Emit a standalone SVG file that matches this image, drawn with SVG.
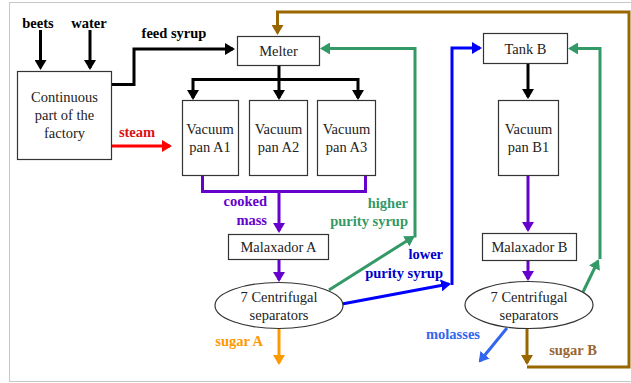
<svg xmlns="http://www.w3.org/2000/svg" width="631" height="383" viewBox="0 0 631 383">
<style>
.box{fill:#fff;stroke:#333;stroke-width:1.2}
.nt{font-family:'Liberation Serif','Times New Roman','DejaVu Serif',serif;font-size:14.5px;fill:#222;text-anchor:middle}
.lb{font-family:'Liberation Serif','Times New Roman','DejaVu Serif',serif;font-size:14.5px;font-weight:bold}
.c{fill:none;stroke-width:3}
.k{stroke:#000}.r{stroke:#ff0000}.p{stroke:#6600cc}.g{stroke:#339966}.b{stroke:#0000ff}.o{stroke:#ff9900}.br{stroke:#996600}.lbl{stroke:#3366ee}
</style>
<defs>
<marker id="ak" viewBox="0 0 10 12" markerWidth="10" markerHeight="12" refX="8" refY="6" orient="auto" markerUnits="userSpaceOnUse"><path d="M0,0L10,6L0,12z" fill="#000"/></marker>
<marker id="ar" viewBox="0 0 10 12" markerWidth="10" markerHeight="12" refX="8" refY="6" orient="auto" markerUnits="userSpaceOnUse"><path d="M0,0L10,6L0,12z" fill="#ff0000"/></marker>
<marker id="ap" viewBox="0 0 10 12" markerWidth="10" markerHeight="12" refX="8" refY="6" orient="auto" markerUnits="userSpaceOnUse"><path d="M0,0L10,6L0,12z" fill="#6600cc"/></marker>
<marker id="ag" viewBox="0 0 10 12" markerWidth="10" markerHeight="12" refX="8" refY="6" orient="auto" markerUnits="userSpaceOnUse"><path d="M0,0L10,6L0,12z" fill="#339966"/></marker>
<marker id="ab" viewBox="0 0 10 12" markerWidth="10" markerHeight="12" refX="8" refY="6" orient="auto" markerUnits="userSpaceOnUse"><path d="M0,0L10,6L0,12z" fill="#0000ff"/></marker>
<marker id="ao" viewBox="0 0 10 12" markerWidth="10" markerHeight="12" refX="8" refY="6" orient="auto" markerUnits="userSpaceOnUse"><path d="M0,0L10,6L0,12z" fill="#ff9900"/></marker>
<marker id="abr" viewBox="0 0 10 12" markerWidth="10" markerHeight="12" refX="8" refY="6" orient="auto" markerUnits="userSpaceOnUse"><path d="M0,0L10,6L0,12z" fill="#996600"/></marker>
<marker id="al" viewBox="0 0 10 12" markerWidth="10" markerHeight="12" refX="8" refY="6" orient="auto" markerUnits="userSpaceOnUse"><path d="M0,0L10,6L0,12z" fill="#3366ee"/></marker>
</defs>
<rect x="0" y="0" width="631" height="383" fill="#fff"/>
<rect x="9.5" y="2.5" width="640" height="379" fill="none" stroke="#c8c8c8" stroke-width="1"/>

<g id="connectors">
<path class="c k" d="M40.5,30V68" marker-end="url(#ak)"/>
<path class="c k" d="M90,30V68" marker-end="url(#ak)"/>
<path class="c k" d="M112,84.5H134V49H233" marker-end="url(#ak)"/>
<path class="c r" d="M112,146H170" marker-end="url(#ar)"/>
<path class="c k" d="M279,66V79.5"/>
<path class="c k" d="M279,79.5H193V98" marker-end="url(#ak)"/>
<path class="c k" d="M279,79.5H358V98" marker-end="url(#ak)"/>
<path class="c k" d="M279,79V98" marker-end="url(#ak)"/>
<path class="c p" d="M202.5,176V191.5H365.5V176"/>
<path class="c p" d="M279,191V231" marker-end="url(#ap)"/>
<path class="c p" d="M279,259V280" marker-end="url(#ap)"/>
<path class="c o" d="M279,328.5V363" marker-end="url(#ao)"/>
<path class="c g" d="M329,290L413,237" marker-end="url(#ag)"/>
<path class="c g" d="M415,237.5V48.5H322" marker-end="url(#ag)"/>
<path class="c b" d="M342,304L449,284" marker-end="url(#ab)"/>
<path class="c b" d="M452,285V48H480" marker-end="url(#ab)"/>
<path class="c k" d="M528,63V97" marker-end="url(#ak)"/>
<path class="c p" d="M528,176V230" marker-end="url(#ap)"/>
<path class="c p" d="M528,260V279" marker-end="url(#ap)"/>
<path class="c g" d="M583,292L598,261" marker-end="url(#ag)"/>
<path class="c g" d="M600,259V48.5H570" marker-end="url(#ag)"/>
<path class="c lbl" d="M507,328L480,361" marker-end="url(#al)"/>
<path class="c br" d="M527,329V363" marker-end="url(#abr)"/>
<path class="c br" d="M527,367H629V12H277.5V33" marker-end="url(#abr)"/>
</g>

<g id="labels" font-family="Liberation Serif, serif">
<text class="lb" x="38" y="28" text-anchor="middle" fill="#000">beets</text>
<text class="lb" x="89" y="28" text-anchor="middle" fill="#000">water</text>
<text class="lb" x="174" y="38" text-anchor="middle" fill="#000">feed syrup</text>
<text class="lb" x="137" y="137" text-anchor="middle" fill="#dd1111">steam</text>
<text class="lb" x="267" y="206" text-anchor="end" fill="#6600cc">cooked</text>
<text class="lb" x="267" y="225" text-anchor="end" fill="#6600cc">mass</text>
<text class="lb" x="408" y="208" text-anchor="end" fill="#339966">higher</text>
<text class="lb" x="408" y="226" text-anchor="end" fill="#339966">purity syrup</text>
<text class="lb" x="443" y="259" text-anchor="end" fill="#0000cc">lower</text>
<text class="lb" x="443" y="278" text-anchor="end" fill="#0000cc">purity syrup</text>
<text class="lb" x="263" y="346" text-anchor="end" fill="#ff9900">sugar A</text>
<text class="lb" x="453" y="339" text-anchor="middle" fill="#3366ee">molasses</text>
<text class="lb" x="573" y="355" text-anchor="middle" fill="#996633">sugar B</text>
</g>

<g id="continuous"><rect class="box" x="17.5" y="71.5" width="94" height="88"/>
<text class="nt" x="64.5" y="102">Continuous</text><text class="nt" x="64.5" y="120">part of the</text><text class="nt" x="64.5" y="138">factory</text></g>
<g id="melter"><rect class="box" x="237.5" y="36.5" width="82" height="29"/><text class="nt" x="278.5" y="56">Melter</text></g>
<g id="panA1"><rect class="box" x="182.5" y="100.5" width="56" height="75"/><text class="nt" x="210" y="134">Vacuum</text><text class="nt" x="210" y="152">pan A1</text></g>
<g id="panA2"><rect class="box" x="249.5" y="100.5" width="58" height="75"/><text class="nt" x="278.5" y="134">Vacuum</text><text class="nt" x="278.5" y="152">pan A2</text></g>
<g id="panA3"><rect class="box" x="317.5" y="100.5" width="58" height="75"/><text class="nt" x="346.5" y="134">Vacuum</text><text class="nt" x="346.5" y="152">pan A3</text></g>
<g id="malaxA"><rect class="box" x="228.5" y="234.5" width="100" height="25"/><text class="nt" x="278.5" y="252">Malaxador A</text></g>
<g id="centA"><ellipse class="box" cx="279" cy="305.5" rx="64" ry="23"/><text class="nt" x="279" y="302">7 Centrifugal</text><text class="nt" x="279" y="320">separators</text></g>
<g id="tankB"><rect class="box" x="483.5" y="33.5" width="84" height="30"/><text class="nt" x="525.5" y="54">Tank B</text></g>
<g id="panB1"><rect class="box" x="498.5" y="100.5" width="60" height="75"/><text class="nt" x="528.5" y="134">Vacuum</text><text class="nt" x="528.5" y="152">pan B1</text></g>
<g id="malaxB"><rect class="box" x="482.5" y="233.5" width="94" height="27"/><text class="nt" x="529.5" y="252">Malaxador B</text></g>
<g id="centB"><ellipse class="box" cx="529" cy="305" rx="64" ry="23.5"/><text class="nt" x="529" y="302">7 Centrifugal</text><text class="nt" x="529" y="320">separators</text></g>
</svg>
